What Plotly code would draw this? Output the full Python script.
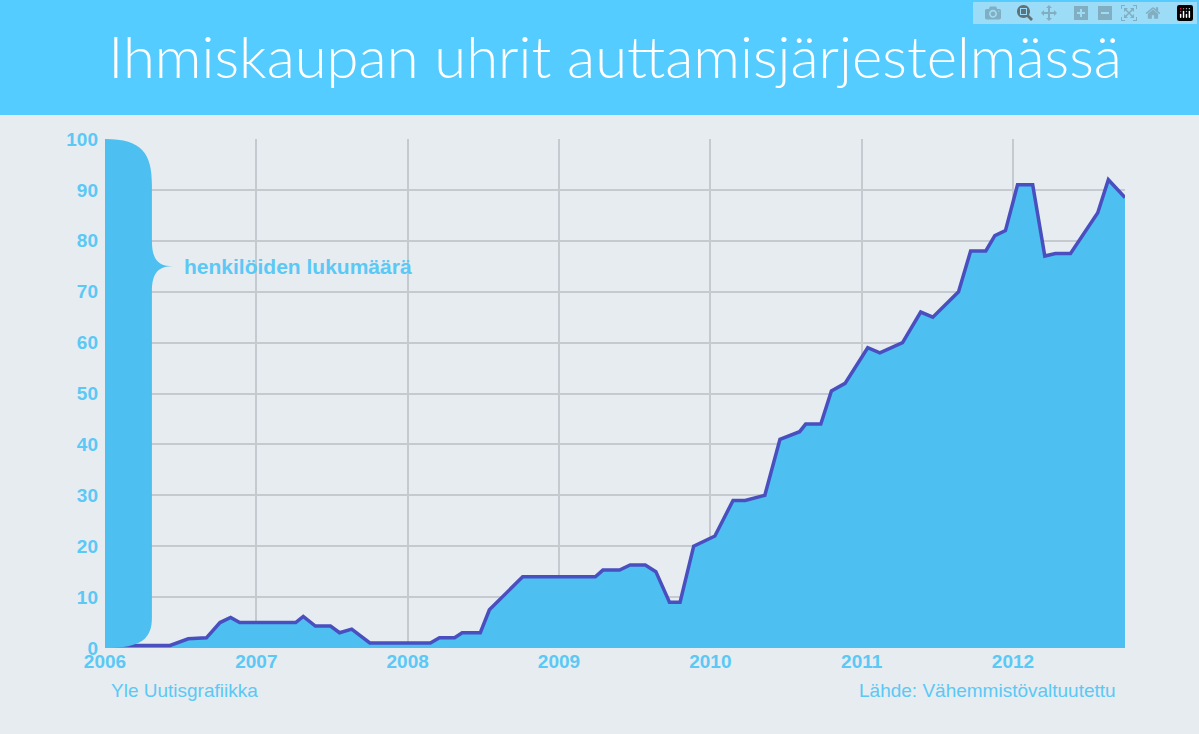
import plotly.graph_objects as go

# readings: decimal year, persons
years = [2006.00, 2006.43, 2006.55, 2006.67, 2006.76, 2006.83, 2006.89, 2007.26, 2007.31,
         2007.39, 2007.49, 2007.55, 2007.63, 2007.75, 2008.15, 2008.21, 2008.31, 2008.36,
         2008.48, 2008.54, 2008.76, 2009.24, 2009.29, 2009.40, 2009.47, 2009.57, 2009.64,
         2009.73, 2009.80, 2009.89, 2010.03, 2010.15, 2010.23, 2010.36, 2010.46, 2010.59,
         2010.63, 2010.73, 2010.80, 2010.89, 2011.04, 2011.12, 2011.27, 2011.39, 2011.47,
         2011.64, 2011.72, 2011.82, 2011.88, 2011.95, 2012.03, 2012.13, 2012.21, 2012.28,
         2012.38, 2012.56, 2012.63, 2012.74]
persons = [0.5, 0.5, 1.8, 2, 5, 6, 5, 5, 6.2,
           4.3, 4.3, 3, 3.7, 1, 1, 2, 2, 3,
           3, 7.5, 14, 14, 15.3, 15.3, 16.3, 16.3, 15,
           9, 9, 20, 22, 29, 29, 30, 41, 42.5,
           44, 44, 50.5, 52, 59, 58, 60, 66, 65,
           70, 78, 78, 81, 82, 91, 91, 77, 77.5,
           77.5, 85.5, 92, 88.5]
year_ticks = [2006, 2007, 2008, 2009, 2010, 2011, 2012]
y_ticks = list(range(0, 101, 10))

blue = "#5BC8F5"
fig = go.Figure()
fig.add_trace(go.Scatter(x=years, y=persons, mode="lines", fill="tozeroy",
                         fillcolor="#4DBFF0", line=dict(color="#4A4FC0", width=3.5),
                         hoverinfo="skip"))

# curly brace on the left
brace = ("M 2006,100 C 2006.25,100 2006.31,97 2006.31,91 L 2006.31,80 "
         "C 2006.31,76 2006.36,75 2006.45,75 C 2006.36,75 2006.31,74 2006.31,70 "
         "L 2006.31,6 C 2006.31,2 2006.25,0 2006,0 Z")
fig.add_shape(type="path", path=brace, fillcolor="#4DBFF0", line=dict(width=0), layer="above")

# title band
fig.add_shape(type="rect", xref="paper", yref="paper", x0=-0.2, x1=1.2, y0=1.047, y1=1.4,
              fillcolor="#55CCFF", line=dict(width=0), layer="below")

fig.add_annotation(x=2006.51, y=75, text="<b>henkilöiden lukumäärä</b>", showarrow=False,
                   xanchor="left", font=dict(size=21, color=blue, family="Liberation Sans"))
fig.add_annotation(xref="paper", yref="paper", x=0.004, y=-0.108, text="Yle Uutisgrafiikka",
                   showarrow=False, xanchor="left", font=dict(size=19, color=blue, family="Liberation Sans"))
fig.add_annotation(xref="paper", yref="paper", x=0.993, y=-0.108, text="Lähde: Vähemmistövaltuutettu",
                   showarrow=False, xanchor="right", font=dict(size=19, color=blue, family="Liberation Sans"))

fig.update_layout(
    width=1199, height=734,
    margin=dict(l=105, r=74, t=139, b=86),
    paper_bgcolor="#E6ECF0", plot_bgcolor="#E6ECF0",
    showlegend=False,
    title=dict(text="Ihmiskaupan uhrit auttamisjärjestelmässä", x=0.513, xanchor="center",
               y=0.922, yanchor="middle",
               font=dict(size=58, color="white", family="Lato", weight=300)),
    xaxis=dict(range=[2006, 2012.74], tickvals=year_ticks, ticktext=[f"<b>{t}</b>" for t in year_ticks],
               showgrid=True, gridcolor="#C5CAD0", gridwidth=2, zeroline=False,
               tickfont=dict(size=19, color=blue, family="Liberation Sans")),
    yaxis=dict(range=[0, 100], tickvals=y_ticks, ticktext=[f"<b>{t}</b>" for t in y_ticks],
               showgrid=True, gridcolor="#C5CAD0", gridwidth=2, zeroline=False,
               ticks="", ticklabelstandoff=6,
               tickfont=dict(size=19, color=blue, family="Liberation Sans")),
)

fig.write_html("out.html", post_script="document.body.style.margin='0';")
